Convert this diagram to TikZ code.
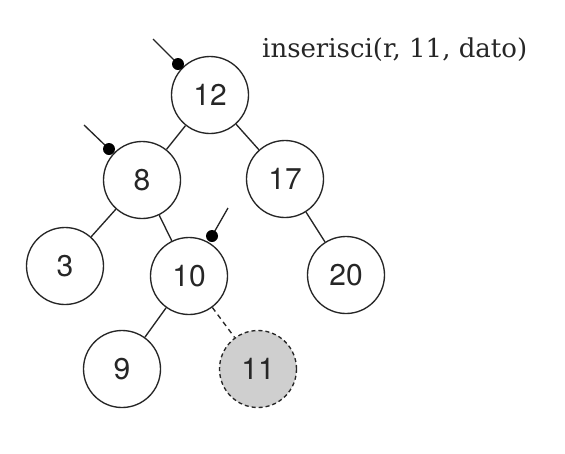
\documentclass[tikz,border=0pt]{standalone}
\usepackage{fontspec}
\setsansfont{TeX Gyre Heros}
\newfontfamily\labelfont{DejaVu Serif}
\begin{document}
\begin{tikzpicture}[x=1pt,y=-1pt,
  treenode/.style={circle,draw=black!85,line width=1.35pt,minimum size=77pt,inner sep=0pt,
    font=\sffamily\fontsize{30}{34}\selectfont,text=black!85},
  newnode/.style={treenode,dashed,dash pattern=on 4pt off 3pt,fill=black!19},
  edge/.style={line width=1.35pt,draw=black!85},
  newedge/.style={edge,dash pattern=on 5pt off 4pt},
  ptr/.style={line width=1.35pt,draw=black!85}]
\useasboundingbox (0,0) rectangle (565,453);
\node[treenode] (n12) at (210,95) {12};
\node[treenode] (n8) at (142,180) {8};
\node[treenode] (n17) at (285,179) {17};
\node[treenode] (n3) at (65,266) {3};
\node[treenode] (n10) at (189,276) {10};
\node[treenode] (n20) at (346,275) {20};
\node[treenode] (n9) at (122,369) {9};
\node[newnode] (n11) at (258,369) {11};
\draw[edge] (n12) -- (n8);
\draw[edge] (n12) -- (n17);
\draw[edge] (n8) -- (n3);
\draw[edge] (n8) -- (n10);
\draw[edge] (n17) -- (n20);
\draw[edge] (n10) -- (n9);
\draw[newedge] (n10) -- (n11);
% pointers
\coordinate (p12a) at ([shift={(-32,-31)}]n12.center);
\coordinate (p12b) at ([shift={(-57,-56)}]n12.center);
\coordinate (p8a) at ([shift={(-33,-31)}]n8.center);
\coordinate (p8b) at ([shift={(-58,-55)}]n8.center);
\coordinate (p10a) at ([shift={(23,-40)}]n10.center);
\coordinate (p10b) at ([shift={(39,-68)}]n10.center);
\draw[ptr] (p12a) -- (p12b);
\draw[ptr] (p8a) -- (p8b);
\draw[ptr] (p10a) -- (p10b);
\fill (p12a) circle (6);
\fill (p8a) circle (6);
\fill (p10a) circle (6);
\node[anchor=base west,inner sep=0pt,font=\labelfont\fontsize{26}{30}\selectfont,text=black!85] (lbl) at (262,57) {inserisci(r, 11, dato)};
\end{tikzpicture}
\end{document}
